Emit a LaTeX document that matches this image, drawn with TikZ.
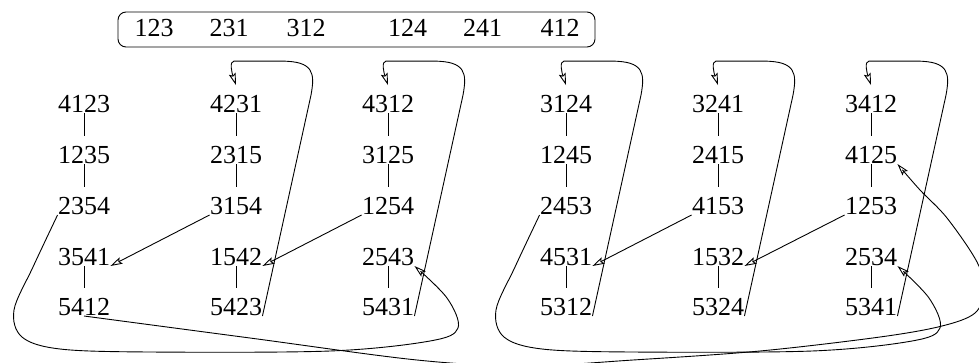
\documentclass[tikz,border=0pt]{standalone}
\usepackage{fontspec}
\setmainfont{Liberation Serif}
\usetikzlibrary{arrows.meta,calc}
\begin{document}
\begin{tikzpicture}[x=1pt,y=-1pt, line width=0.9pt,
  num/.style={font=\fontsize{26}{30}\selectfont, inner sep=0pt, text height=27pt, text depth=0pt, anchor=south},
  arr/.style={-{Stealth[open,length=12pt,width=7pt,inset=2pt]}},
  curve/.style={smooth, tension=0.55}]
\useasboundingbox (0,0) rectangle (979,362);
\clip (0,0) rectangle (979,362);
% top box
\node[draw, rounded corners=8pt, minimum width=477pt, minimum height=35pt, inner sep=0pt] (box) at (356.5,29.5) {};
\node[num] (t1) at (154,37) {123};
\node[num] (t2) at (229,37) {231};
\node[num] (t3) at (306,37) {312};
\node[num] (t4) at (407.5,37) {124};
\node[num] (t5) at (482.5,37) {241};
\node[num] (t6) at (560,37) {412};
% columns
\foreach \c/\x/\a/\b/\cc/\d/\e in {A/84/4123/1235/2354/3541/5412, B/236/4231/2315/3154/1542/5423, C/388/4312/3125/1254/2543/5431, D/566/3124/1245/2453/4531/5312, E/718/3241/2415/4153/1532/5324, F/871/3412/4125/1253/2534/5341}{
  \node[num] (\c1) at (\x,113) {\a};
  \node[num] (\c2) at (\x,164) {\b};
  \node[num] (\c3) at (\x,215) {\cc};
  \node[num] (\c4) at (\x,266) {\d};
  \node[num] (\c5) at (\x,316) {\e};
  \draw (\c1.south) -- (\c2.north);
  \draw (\c2.south) -- (\c3.north);
  \draw (\c4.south) -- (\c5.north);
}
% loops
\foreach \c in {B,C,D,E,F}{
  \draw[arr] (\c5.south east) -- ($(\c1.north)+(75,10)$)
    .. controls ($(\c1.north)+(79,-12)$) and ($(\c1.north)+(78,-24)$) .. ($(\c1.north)+(45,-24)$)
    -- ($(\c1.north)+(-2,-24)$)
    .. controls ($(\c1.north)+(-7,-24)$) and ($(\c1.north)+(-4,-12)$) .. (\c1.north);
}
% straight arrows
\draw[arr] (B3.south west) -- (A4.south east);
\draw[arr] (C3.south west) -- (B4.south east);
\draw[arr] (E3.south west) -- (D4.south east);
\draw[arr] (F3.south west) -- (E4.south east);
% long curves
\draw[arr] plot[curve] coordinates {(A3.south west) (33,267) (14,310) (22,337) (60,349) (150,352) (330,351) (430,341) (458,328) (447,298) (C4.south east)};
\draw[arr] plot[curve] coordinates {(D3.south west) (515,267) (496,310) (504,337) (542,349) (632,352) (812,351) (912,341) (940,328) (929,298) (F4.south east)};
\draw[arr] plot[curve] coordinates {(A5.south) (250,338) (417,360) (525,366) (633,360) (760,351) (880,337) (942,326) (975,313) (984,290) (977,262) (947,218) (920,190) (F2.south east)};
\end{tikzpicture}
\end{document}
